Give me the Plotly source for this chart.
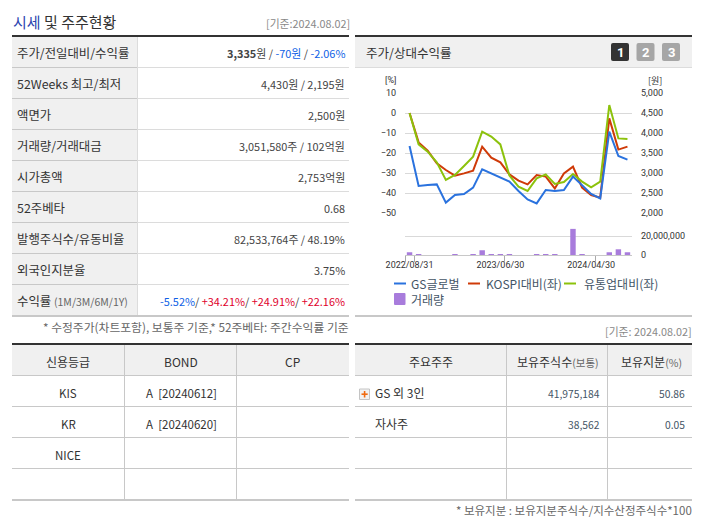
import plotly.graph_objects as go

W, H = 702, 525
FONT = "Noto Sans CJK KR"
NARROW = "Roboto, Liberation Sans, sans-serif"

# ---- chart data ----
months = ["2022/08/31","2022/09/30","2022/10/31","2022/11/30","2022/12/31","2023/01/31","2023/02/28",
          "2023/03/31","2023/04/30","2023/05/31","2023/06/30","2023/07/31","2023/08/31","2023/09/30",
          "2023/10/31","2023/11/30","2023/12/31","2024/01/31","2024/02/29","2024/03/31","2024/04/30",
          "2024/05/31","2024/06/30","2024/07/31","2024/08/02"]
gs_price = [3675,2675,2700,2715,2260,2450,2475,2635,3090,2990,2890,2785,2550,2340,2240,2575,2550,
            2575,2910,2700,2475,2365,4035,3425,3335]
kospi_rel = [0,-14.7,-18.8,-25.2,-28.5,-31.3,-30.2,-28.8,-16.8,-22.3,-24.7,-30.7,-33.8,-35.7,-31,
             -31.8,-37.7,-30.2,-26.8,-37.3,-41,-42.3,-2.7,-18.3,-16.8]
retail_rel = [0,-15.7,-19.3,-24.7,-33.5,-31,-26.5,-21.8,-9.3,-11.8,-15.7,-31.3,-36.8,-39,-32.7,
              -30.7,-35.5,-34.5,-30.5,-34.3,-37.2,-34.3,4,-12.7,-13]
volume = [2900000,900000,0,0,0,1000000,0,1000000,5000000,1000000,1000000,1000000,
          0,0,1000000,1000000,1000000,0,27500000,1000000,0,0,2900000,6000000,2900000]
pct_ticks = [10,0,-10,-20,-30,-40,-50]
won_ticks = [5000,4500,4000,3500,3000,2500,2000]
vol_ticks = [0,20000000,40000000]
vol_tick_text = ["0","20,000,000",""]
date_ticks = ["2022/08/31","2023/06/30","2024/04/30"]
boundary_ticks = [-0.5,0.5,10.5,20.5]
series_names = ["GS글로벌","KOSPI대비(좌)","유통업대비(좌)","거래량"]

# ---- table text ----
BLUE, RED = "#0f5fe6", "#e0002b"
quote_labels = ["주가/전일대비/수익률","52Weeks 최고/최저","액면가","거래량/거래대금","시가총액","52주베타",
                "발행주식수/유동비율","외국인지분율",
                "수익률 <span style='font-size:10.5px;color:#666'>(1M/3M/6M/1Y)</span>"]
quote_values = [f"<b>3,335</b>원 / <span style='color:{BLUE}'>-70원</span> / <span style='color:{BLUE}'>-2.06%</span>",
                "4,430원 / 2,195원","2,500원","3,051,580주 / 102억원","2,753억원","0.68",
                "82,533,764주 / 48.19%","3.75%",
                f"<span style='color:{BLUE}'>-5.52%</span>/ <span style='color:{RED}'>+34.21%</span>/ "
                f"<span style='color:{RED}'>+24.91%</span>/ <span style='color:{RED}'>+22.16%</span>"]
credit_head = ["신용등급","BOND","CP"]
credit_rows = [["KIS","A  [20240612]",""],["KR","A  [20240620]",""],["NICE","",""],["","",""]]
holder_head = ["주요주주","보유주식수<span style='font-size:10.5px;color:#666'>(보통)</span>",
               "보유지분<span style='font-size:10.5px;color:#666'>(%)</span>"]
holder_rows = [["GS 외 3인","41,975,184","50.86"],["자사주","38,562","0.05"],["","",""],["","",""]]

shapes, notes = [], []

def X(p): return p / W
def Y(p): return 1 - p / H

def rect(x0, y0, x1, y1, fill, line=None, lw=0, layer="below"):
    shapes.append(dict(type="rect", xref="paper", yref="paper", x0=X(x0), x1=X(x1), y0=Y(y0), y1=Y(y1),
                       fillcolor=fill, line=dict(color=line or fill, width=lw), layer=layer))

def rule(x0, y0, x1, y1, color, lw=1, layer="below"):
    shapes.append(dict(type="line", xref="paper", yref="paper", x0=X(x0), x1=X(x1), y0=Y(y0), y1=Y(y1),
                       line=dict(color=color, width=lw), layer=layer))

def rrect(x0, y0, x1, y1, r, fill):
    a, b, c, d = X(x0), X(x1), Y(y0), Y(y1)
    rx, ry = r / W, r / H
    path = (f"M{a+rx},{c} L{b-rx},{c} Q{b},{c} {b},{c-ry} L{b},{d+ry} Q{b},{d} {b-rx},{d} "
            f"L{a+rx},{d} Q{a},{d} {a},{d+ry} L{a},{c-ry} Q{a},{c} {a+rx},{c} Z")
    shapes.append(dict(type="path", xref="paper", yref="paper", path=path, fillcolor=fill,
                       line=dict(width=0), layer="below"))

def text(x, y, s, size=12, color="#333333", anchor="left", font=FONT):
    notes.append(dict(xref="paper", yref="paper", x=X(x), y=Y(y), text=s, showarrow=False,
                      xanchor=anchor, yanchor="middle", borderpad=0, borderwidth=0,
                      font=dict(family=font, size=size, color=color)))

DARK, LINE, SOFT, HEAD = "#333333", "#c8c8c8", "#dcdcdc", "#f0f0f0"

# ---- heading ----
text(12.5, 21, "<span style='color:#2b45b0'>시세</span> 및 주주현황", size=15, color="#333333")
text(349.5, 23, "[기준:2024.08.02]", size=10.8, color="#888888", anchor="right")

# ---- quote table ----
rect(12, 37, 137, 315, HEAD)
row_lines = [67.5, 98.5, 129.5, 160.5, 191.5, 222.5, 253.5, 284.5]
for y in row_lines:
    rule(137, y, 349, y, SOFT)
    rule(12, y, 137, y, LINE)
rule(137.5, 37, 137.5, 315, SOFT)
rule(12, 36, 349, 36, DARK, 2)
rule(12, 316, 349, 316, LINE, 2)
for i, (a, b) in enumerate(zip(quote_labels, quote_values)):
    y = 53 + i * 31
    text(16.5, y, a, size=12.4, color="#333333")
    text(345, y, b, size=10.9, color="#444444", anchor="right")
text(349, 326.5, "* 수정주가(차트포함), 보통주 기준,* 52주베타: 주간수익률 기준", size=11.8, color="#666666", anchor="right")

# ---- lower tables ----
lower_lines = [375.5, 406.5, 437.5, 468.5]
for x0, x1, v0, v1 in ((12, 349, 124.5, 236.5), (355, 692, 506.5, 607.5)):
    rect(x0, 345, x1, 375, HEAD)
    for y in lower_lines:
        rule(x0, y, x1, y, LINE)
    rule(v0, 345, v0, 499, LINE)
    rule(v1, 345, v1, 499, LINE)
    rule(x0, 344, x1, 344, DARK, 2)
    rule(x0, 500, x1, 500, LINE, 2)

credit_x = [68, 181, 292]
for j, s in enumerate(credit_head):
    text(credit_x[j], 361.5, s, size=12, color="#333333", anchor="center")
for i, row in enumerate(credit_rows):
    for j, s in enumerate(row):
        if s:
            text(credit_x[j], 392.5 + i * 31, s, size=11.5, color="#333333", anchor="center")

holder_x = [431, 558, 651]
for j, s in enumerate(holder_head):
    text(holder_x[j], 361.5, s, size=12, color="#333333", anchor="center")
for i, row in enumerate(holder_rows):
    if row[0]:
        text(374.5, 392.5 + i * 31, row[0], size=12, color="#333333")
        text(600, 393 + i * 31, row[1], size=10.3, color="#445566", anchor="right")
        text(685, 393 + i * 31, row[2], size=10.3, color="#445566", anchor="right")
rect(359.5, 389, 369.5, 399.5, "#f2f2f2", "#c4c4c4", 1, "above")
rect(363.8, 391, 365.4, 397.5, "#f06a10", layer="above")
rect(361.5, 393.4, 367.7, 395, "#f06a10", layer="above")
text(692, 510, "* 보유지분 : 보유지분주식수/지수산정주식수*100", size=11.5, color="#666666", anchor="right")

# ---- chart panel ----
rect(355, 37, 692, 67, HEAD)
rule(355, 67.5, 692, 67.5, SOFT)
rule(355, 36, 692, 36, DARK, 2)
text(365.5, 52, "주가/상대수익률", size=12.5, color="#333333")
for x0, label, col in ((611, "1", "#333333"), (636.5, "2", "#a6a6a6"), (662, "3", "#a6a6a6")):
    rrect(x0, 43, x0 + 18, 61, 2, col)
    text(x0 + 9, 52, f"<b>{label}</b>", size=13, color="#ffffff", anchor="center", font="Roboto")
text(391, 80, "[%]", size=9, color="#333333", anchor="center", font=NARROW)
text(654.5, 80, "[원]", size=9, color="#333333", anchor="center", font=FONT)

# legend
LINE_COLORS = ["#2a72de", "#cf3a08", "#8cc20c"]
BAR_COLOR = "#a87cdc"
legend_x = [394, 468, 564]
legend_tx = [411, 485.5, 583.5]
for x0, tx, name, col in zip(legend_x, legend_tx, series_names[:3], LINE_COLORS):
    rule(x0, 283.5, x0 + 12, 283.5, col, 2)
    text(tx, 283.5, name, size=12, color="#445566")
rrect(394, 293, 405.5, 305, 1, BAR_COLOR)
text(411, 299, series_names[3], size=12, color="#445566")

rule(355, 316, 692, 316, LINE, 2)
text(692, 331, "[기준: 2024.08.02]", size=10.8, color="#888888", anchor="right")

# ---- figure ----
fig = go.Figure()
fig.add_bar(x=months, y=volume, name=series_names[3], marker=dict(color=BAR_COLOR, line=dict(width=0)),
            xaxis="x", yaxis="y3", width=0.6)
fig.add_scatter(x=months, y=gs_price, name=series_names[0], mode="lines", xaxis="x", yaxis="y2",
                line=dict(color=LINE_COLORS[0], width=2))
fig.add_scatter(x=months, y=kospi_rel, name=series_names[1], mode="lines", xaxis="x", yaxis="y",
                line=dict(color=LINE_COLORS[1], width=2))
fig.add_scatter(x=months, y=retail_rel, name=series_names[2], mode="lines", xaxis="x", yaxis="y",
                line=dict(color=LINE_COLORS[2], width=2))
# carries the boundary tick marks of the date axis
fig.add_scatter(x=boundary_ticks, y=[0] * len(boundary_ticks), mode="markers", marker=dict(opacity=0),
                xaxis="x2", yaxis="y3", showlegend=False, hoverinfo="skip")

tick_font = dict(family=NARROW, size=9, color="#333333")
x_dom = [405 / W, 632 / W]
fig.update_layout(
    width=W, height=H, margin=dict(l=0, r=0, t=0, b=0, autoexpand=False), showlegend=False,
    paper_bgcolor="#ffffff", plot_bgcolor="rgba(0,0,0,0)",
    shapes=shapes, annotations=notes,
    xaxis=dict(domain=x_dom, type="category", categoryorder="array", categoryarray=months,
               range=[-0.5, 24.5], anchor="y3", tickmode="array", tickvals=date_ticks, ticktext=date_ticks,
               ticks="", showgrid=False, showline=True, linecolor=LINE, linewidth=1, zeroline=False,
               tickfont=tick_font, ticklabelstandoff=1),
    xaxis2=dict(domain=x_dom, type="linear", range=[-0.5, 24.5], anchor="y3", overlaying="x", side="bottom",
                tickmode="array", tickvals=boundary_ticks, ticks="outside", ticklen=6, tickcolor="#aaaaaa", tickwidth=1,
                showticklabels=False, showgrid=False, showline=False, zeroline=False),
    yaxis=dict(domain=[(H - 213) / H, (H - 93) / H], range=[-50, 10], anchor="x", tickmode="array",
               tickvals=pct_ticks, showgrid=True, gridcolor="#d9d9d9", gridwidth=1, zeroline=False,
               showline=False, ticks="", tickfont=tick_font, ticklabelstandoff=8),
    yaxis2=dict(domain=[(H - 213) / H, (H - 93) / H], range=[2000, 5000], anchor="x", overlaying="y", side="right",
                tickmode="array", tickvals=won_ticks, tickformat=",d", showgrid=False, zeroline=False,
                showline=False, ticks="", tickfont=tick_font, ticklabelstandoff=8),
    yaxis3=dict(domain=[(H - 255) / H, (H - 217) / H], range=[0, 40000000], anchor="x", side="right",
                tickmode="array", tickvals=vol_ticks, ticktext=vol_tick_text, showgrid=True, gridcolor="#d9d9d9",
                gridwidth=1, zeroline=False, showline=False, ticks="", tickfont=tick_font, ticklabelstandoff=8),
)
fig.write_html("out.html", config=dict(displayModeBar=False),
               post_script="document.body.style.margin='0';document.body.style.overflow='hidden';")
